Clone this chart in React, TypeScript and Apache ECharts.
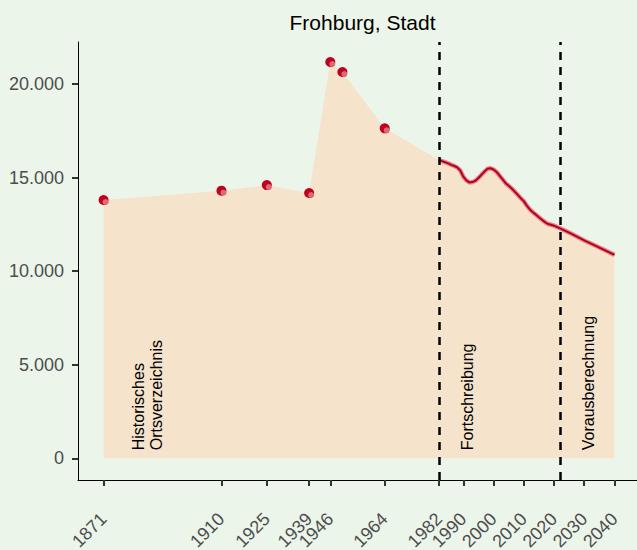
import React, { useEffect, useRef } from "react";
import * as echarts from "echarts";

const historicalYears = [1871, 1910, 1925, 1939, 1946, 1950, 1964];
const historicalValues = [13800, 14300, 14600, 14175, 21175, 20640, 17630];

const updateYears = [
  1982, 1983, 1984, 1985, 1986, 1987, 1988, 1989, 1990, 1991, 1992, 1993, 1994, 1995,
  1996, 1997, 1998, 1999, 2000, 2001, 2002, 2003, 2004, 2005, 2006, 2007, 2008, 2009,
  2010, 2011, 2012, 2013, 2014, 2015, 2016, 2017, 2018, 2019, 2020, 2021, 2022,
];
const updateValues = [
  15940, 15880, 15820, 15760, 15680, 15620, 15540, 15380, 15050, 14850, 14740, 14760, 14830, 14980,
  15150, 15320, 15470, 15500, 15430, 15300, 15100, 14900, 14700, 14560, 14420, 14250, 14080, 13900,
  13740, 13500, 13300, 13150, 13020, 12880, 12750, 12620, 12520, 12480, 12430, 12360, 12290,
];

const projectionYears = [2022, 2025, 2030, 2035, 2040];
const projectionValues = [12290, 12060, 11640, 11260, 10870];

const xTickLabels = [1871, 1910, 1925, 1939, 1946, 1964, 1982, 1990, 2000, 2010, 2020, 2030, 2040];
const yTickValues = [0, 5000, 10000, 15000, 20000];
const dividerYears = [1982, 2022];

const annotationLabels = ["Historisches\nOrtsverzeichnis", "Fortschreibung", "Vorausberechnung"];
const annotationYears = [1885.5, 1991.5, 2031.5];
const annotationBase = 430;

const FONT = "'Liberation Sans', Arial, Helvetica, sans-serif";

function fmt(v: number) {
  return String(Math.round(v)).replace(/\B(?=(\d{3})+(?!\d))/g, ".");
}

export default function App() {
  const ref = useRef<HTMLDivElement>(null);
  useEffect(() => {
    const chart = echarts.init(ref.current!, null, { renderer: "svg" });
    const hist = historicalYears.map((y, i) => [y, historicalValues[i]]);
    const upd = updateYears.map((y, i) => [y, updateValues[i]]);
    const proj = projectionYears.map((y, i) => [y, projectionValues[i]]);
    const lineData = [...upd, ...proj.slice(1)];
    const areaData = [...hist, ...lineData];

    chart.setOption({
      animation: false,
      backgroundColor: "#ecf5ea",
      title: {
        text: "Frohburg, Stadt",
        left: 357.5,
        textAlign: "center",
        top: 7,
        textStyle: { fontFamily: FONT, fontSize: 21, fontWeight: "normal", color: "#000" },
      },
      grid: { left: 78, right: 0, top: 42, bottom: 70, containLabel: false, outerBoundsMode: "none" },
      xAxis: {
        type: "value",
        min: 1862.55,
        max: 2047.45,
        splitLine: { show: false },
        axisLine: { show: true, onZero: false, lineStyle: { color: "#000", width: 1 } },
        axisTick: { show: true, customValues: xTickLabels, length: 6, lineStyle: { color: "#333", width: 2 } },
        axisLabel: {
          customValues: xTickLabels,
          rotate: 45,
          margin: 36,
          fontSize: 18,
          fontFamily: FONT,
          color: "#4d4d4d",
          formatter: (v: number) => String(v),
        },
      },
      yAxis: {
        type: "value",
        min: -1160,
        max: 22245,
        splitLine: { show: false },
        axisLine: { show: true, onZero: false, lineStyle: { color: "#000", width: 1 } },
        axisTick: { show: true, customValues: yTickValues, length: 6, lineStyle: { color: "#333", width: 2 } },
        axisLabel: {
          customValues: yTickValues,
          margin: 14,
          fontSize: 18,
          fontFamily: FONT,
          color: "#4d4d4d",
          formatter: (v: number) => fmt(v),
        },
      },
      series: [
        {
          type: "line",
          data: areaData,
          symbol: "none",
          lineStyle: { width: 0, opacity: 0 },
          areaStyle: { color: "#f6e3cb", opacity: 1 },
          z: 1,
          silent: true,
          markLine: {
            silent: true,
            symbol: ["none", "none"],
            label: { show: false },
            lineStyle: { color: "#000", type: [8, 7], width: 2.5 },
            data: dividerYears.map((y) => ({ xAxis: y })),
          },
        },
        {
          type: "line",
          data: lineData,
          symbol: "none",
          lineStyle: { color: "#e38a8f", width: 4.5 },
          z: 3,
        },
        {
          type: "line",
          data: lineData,
          symbol: "none",
          lineStyle: { color: "#b5001c", width: 2 },
          z: 4,
        },
        {
          type: "scatter",
          data: hist,
          symbolSize: 10,
          itemStyle: { color: "#c0001e", opacity: 1 },
          z: 5,
        },
        {
          type: "scatter",
          data: hist,
          symbolSize: 6,
          symbolOffset: [2, 2],
          itemStyle: { color: "#db6b73", opacity: 1 },
          z: 6,
        },
      ],
    });

    const graphic = annotationLabels.map((text, i) => {
      const p = chart.convertToPixel({ gridIndex: 0 }, [annotationYears[i], annotationBase]) as number[];
      return {
        type: "text",
        x: p[0],
        y: p[1],
        rotation: Math.PI / 2,
        z: 10,
        style: {
          text,
          fontSize: 16,
          fontFamily: FONT,
          fill: "#000",
          align: "left",
          verticalAlign: "middle",
          lineHeight: 18,
        },
      };
    });
    chart.setOption({ graphic });

    return () => chart.dispose();
  }, []);
  return <div ref={ref} style={{ position: "fixed", left: 0, top: 0, width: 637, height: 550 }} />;
}
